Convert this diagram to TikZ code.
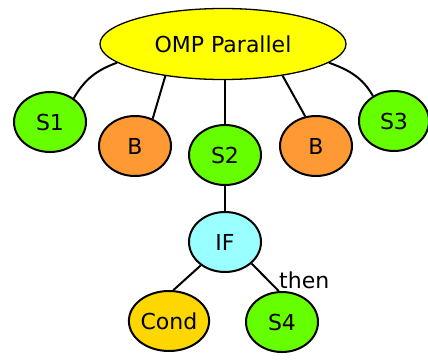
\documentclass[tikz,border=0pt]{standalone}
\usepackage{fontspec}
\setmainfont{DejaVu Sans}
\usetikzlibrary{shapes.geometric}
\definecolor{ompyellow}{HTML}{FFFF00}
\definecolor{stmtgreen}{HTML}{66FF00}
\definecolor{barrierorange}{HTML}{FF9933}
\definecolor{ifcyan}{HTML}{99FFFF}
\definecolor{condgold}{HTML}{FFD700}
\tikzset{
  astnode/.style={ellipse, draw=black, line width=2pt, inner sep=0pt,
    minimum width=72pt, minimum height=60pt,
    font=\fontsize{22pt}{26pt}\selectfont},
  rootnode/.style={astnode, line width=1.3pt, minimum width=246pt, minimum height=71pt},
  stmt/.style={astnode, fill=stmtgreen},
  barrier/.style={astnode, fill=barrierorange},
  edge/.style={draw=black, line width=2pt},
  lbl/.style={inner sep=0pt, font=\fontsize{22pt}{26pt}\selectfont}
}
\begin{document}
\begin{tikzpicture}[x=1pt, y=-1pt]
  \useasboundingbox (0,0) rectangle (428,359);
  % nodes
  \node[rootnode, fill=ompyellow] (omp) at (223,44) {OMP Parallel};
  \node[stmt] (s1) at (50,122) {S1};
  \node[barrier] (b1) at (135,146) {B};
  \node[stmt] (s2) at (225,155) {S2};
  \node[barrier] (b2) at (316,146) {B};
  \node[stmt, minimum width=70pt] (s3) at (394,121) {S3};
  \node[astnode, fill=ifcyan] (if) at (225,242) {IF};
  \node[astnode, fill=condgold] (cond) at (169,321) {Cond};
  \node[stmt] (s4) at (282,322) {S4};
  % edges
  \draw[edge] (omp.190) to[out=200, in=60] (s1.45);
  \draw[edge] (omp.209) -- (b1.57);
  \draw[edge] (omp.south -| s2.north) -- (s2.north);
  \draw[edge] (omp.332) -- (b2.110);
  \draw[edge] (omp.350) to[out=340, in=120] (s3.130);
  \draw[edge] (s2) -- (if);
  \draw[edge] (if.224) -- (cond.82);
  \draw[edge] (if.321) -- (s4.96);
  \node[lbl, anchor=base west] (then) at (279,288) {then};
\end{tikzpicture}
\end{document}
